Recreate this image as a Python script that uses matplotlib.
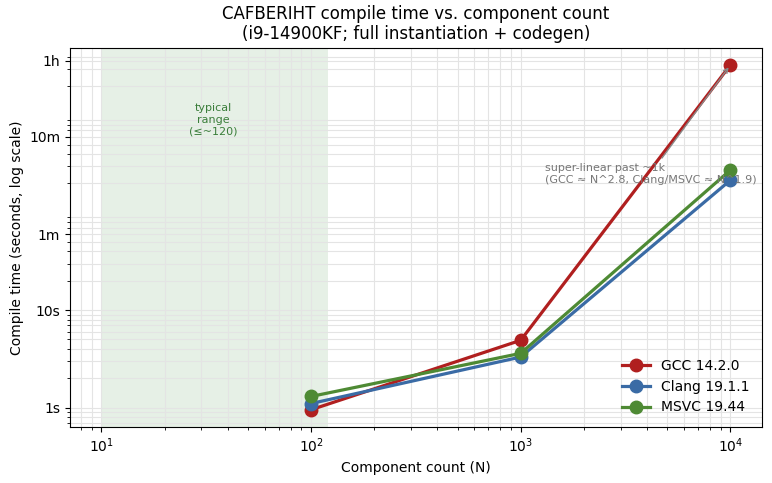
import matplotlib
matplotlib.use("Agg")
import matplotlib.pyplot as plt

# component counts and compile times (seconds)
n_values = [100, 1000, 10000]
gcc_times = [0.95, 4.9, 3270]
clang_times = [1.1, 3.3, 215]
msvc_times = [1.3, 3.6, 273]

series = [
    ("GCC 14.2.0", gcc_times, "#b01f1f"),
    ("Clang 19.1.1", clang_times, "#3a6ba5"),
    ("MSVC 19.44", msvc_times, "#4e8a34"),
]

ytick_vals = [1, 10, 60, 600, 3600]
ytick_labels = ["1s", "10s", "1m", "10m", "1h"]

fig = plt.figure(figsize=(7.72, 4.83), dpi=100)
ax = fig.add_axes([0.0907, 0.116, 0.896, 0.785])

# typical usage range
ax.axvspan(10, 120, color="#4e9a4e", alpha=0.14, lw=0)
ax.text(34, 900, "typical\nrange\n(≤~120)", ha="center", va="center",
        fontsize=8, color="#3a7d3a")

for label, times, color in series:
    ax.plot(n_values, times, marker="o", markersize=9, linewidth=2.3,
            color=color, label=label)

ax.set_xscale("log")
ax.set_yscale("log")
ax.set_yticks(ytick_vals)
ax.set_yticklabels(ytick_labels)
ax.tick_params(labelsize=10)

ax.grid(True, which="both", color="#e4e4e4", linewidth=0.8)

ax.annotate("super-linear past ~1k\n(GCC ≈ N^2.8, Clang/MSVC ≈ N^1.9)",
            xy=(10000, 3270), xytext=(1300, 250),
            ha="left", va="center", fontsize=8, color="#777777",
            arrowprops=dict(arrowstyle="->", color="#888888", lw=1))

ax.set_xlabel("Component count (N)", fontsize=10)
ax.set_ylabel("Compile time (seconds, log scale)", fontsize=10)
ax.set_title("CAFBERIHT compile time vs. component count\n(i9-14900KF; full instantiation + codegen)",
             fontsize=12)
ax.legend(loc="lower right", frameon=False, fontsize=10)

fig.savefig("out.png", dpi=100)
